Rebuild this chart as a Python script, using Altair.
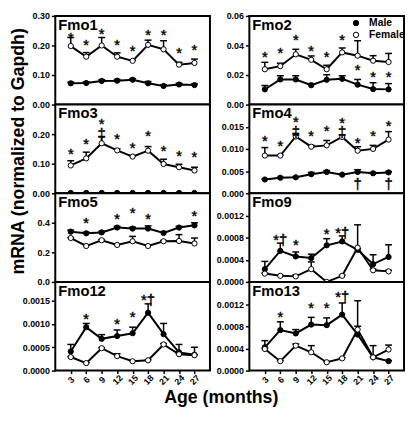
import altair as alt
import pandas as pd

AGES = [3, 6, 9, 12, 15, 18, 21, 24, 27]
SEXES = ["Male", "Female"]

# ---- Fmo1 ----
FMO1_MALE = [0.072, 0.073, 0.080, 0.081, 0.084, 0.072, 0.063, 0.068, 0.066]
FMO1_MALE_UP = [0.076, 0.077, 0.084, 0.085, 0.088, 0.078, 0.067, 0.072, 0.070]
FMO1_FEMALE = [0.198, 0.162, 0.200, 0.162, 0.148, 0.202, 0.187, 0.135, 0.141]
FMO1_FEMALE_UP = [0.227, 0.176, 0.227, 0.175, 0.150, 0.218, 0.216, 0.143, 0.154]
FMO1_ANN_AGES = [3, 6, 9, 12, 15, 18, 21, 24, 27]
FMO1_ANN_VALUES = [0.240, 0.213, 0.252, 0.213, 0.195, 0.248, 0.250, 0.187, 0.199]
FMO1_ANN_TEXTS = ["*", "*", "*", "*", "*", "*", "*", "*", "*"]

# ---- Fmo2 ----
FMO2_MALE = [0.0103, 0.0170, 0.0170, 0.0131, 0.0168, 0.0174, 0.0135, 0.0105, 0.0103]
FMO2_MALE_UP = [0.0129, 0.0195, 0.0195, 0.0142, 0.0202, 0.0195, 0.0170, 0.0148, 0.0142]
FMO2_FEMALE = [0.0239, 0.0260, 0.0340, 0.0303, 0.0239, 0.0353, 0.0331, 0.0297, 0.0288]
FMO2_FEMALE_UP = [0.0286, 0.0280, 0.0374, 0.0329, 0.0266, 0.0383, 0.0432, 0.0331, 0.0346]
FMO2_ANN_AGES = [3, 6, 9, 12, 15, 18, 21, 24, 27]
FMO2_ANN_VALUES = [0.0350, 0.0372, 0.0465, 0.0389, 0.0350, 0.0465, 0.0260, 0.0211, 0.0213]
FMO2_ANN_TEXTS = ["*", "*", "*", "*", "*", "*", "*", "*", "*"]

# ---- Fmo3 ----
FMO3_MALE = [0.001, 0.001, 0.001, 0.001, 0.001, 0.001, 0.001, 0.001, 0.001]
FMO3_MALE_UP = [0.001, 0.001, 0.001, 0.001, 0.001, 0.001, 0.001, 0.001, 0.001]
FMO3_FEMALE = [0.094, 0.118, 0.169, 0.145, 0.124, 0.144, 0.099, 0.088, 0.077]
FMO3_FEMALE_UP = [0.110, 0.139, 0.192, 0.150, 0.126, 0.158, 0.115, 0.098, 0.088]
FMO3_ANN_AGES = [3, 6, 9, 9, 12, 15, 18, 21, 24, 27]
FMO3_ANN_VALUES = [0.147, 0.180, 0.246, 0.212, 0.198, 0.166, 0.206, 0.156, 0.140, 0.137]
FMO3_ANN_TEXTS = ["*", "*", "*", "‡", "*", "*", "*", "*", "*", "*"]

# ---- Fmo4 ----
FMO4_MALE = [0.0031, 0.0035, 0.0036, 0.0043, 0.0048, 0.0042, 0.0048, 0.0045, 0.0047]
FMO4_MALE_UP = [0.0032, 0.0036, 0.0037, 0.0047, 0.0051, 0.0044, 0.0053, 0.0047, 0.0049]
FMO4_FEMALE = [0.0085, 0.0085, 0.0128, 0.0105, 0.0108, 0.0127, 0.0096, 0.0100, 0.0121]
FMO4_FEMALE_UP = [0.0103, 0.0086, 0.0135, 0.0108, 0.0119, 0.0132, 0.0105, 0.0108, 0.0139]
FMO4_ANN_AGES = [3, 6, 9, 9, 12, 15, 18, 18, 21, 24, 27, 21, 27]
FMO4_ANN_VALUES = [0.0126, 0.0115, 0.0169, 0.0148, 0.0137, 0.0150, 0.0168, 0.0146,
                   0.0123, 0.0137, 0.0161, 0.0029, 0.0029]
FMO4_ANN_TEXTS = ["*", "*", "*", "‡", "*", "*", "*", "‡", "*", "*", "*", "†", "†"]

# ---- Fmo5 ----
FMO5_MALE = [0.340, 0.329, 0.335, 0.368, 0.361, 0.361, 0.331, 0.368, 0.383]
FMO5_MALE_UP = [0.350, 0.336, 0.342, 0.376, 0.370, 0.379, 0.340, 0.376, 0.400]
FMO5_FEMALE = [0.297, 0.243, 0.282, 0.250, 0.275, 0.243, 0.275, 0.277, 0.260]
FMO5_FEMALE_UP = [0.300, 0.250, 0.286, 0.255, 0.308, 0.248, 0.280, 0.320, 0.297]
FMO5_ANN_AGES = [6, 12, 15, 18, 27]
FMO5_ANN_VALUES = [0.426, 0.454, 0.490, 0.454, 0.475]
FMO5_ANN_TEXTS = ["*", "*", "*", "*", "*"]

# ---- Fmo9 ----
FMO9_MALE = [0.00023, 0.00056, 0.00046, 0.00043, 0.00066, 0.00073, 0.00058, 0.00032, 0.00045]
FMO9_MALE_UP = [0.00037, 0.00070, 0.00054, 0.00050, 0.00078, 0.00083, 0.00060, 0.00049, 0.00067]
FMO9_FEMALE = [0.00015, 0.00011, 0.00010, 0.00023, 0.00000, 0.00011, 0.00062, 0.00021, 0.00019]
FMO9_FEMALE_UP = [0.00016, 0.00012, 0.00013, 0.00036, 0.00000, 0.00012, 0.00103, 0.00023, 0.00021]
FMO9_ANN_AGES = [6, 9, 15, 18]
FMO9_ANN_VALUES = [0.00083, 0.00073, 0.00094, 0.00096]
FMO9_ANN_TEXTS = ["*†", "*", "*", "*†"]

# ---- Fmo12 ----
FMO12_MALE = [0.00041, 0.00093, 0.00068, 0.00074, 0.00080, 0.00124, 0.00078, 0.00039, 0.00034]
FMO12_MALE_UP = [0.00056, 0.00101, 0.00077, 0.00087, 0.00093, 0.00143, 0.00101, 0.00056, 0.00050]
FMO12_FEMALE = [0.00029, 0.00016, 0.00048, 0.00031, 0.00020, 0.00022, 0.00056, 0.00035, 0.00033]
FMO12_FEMALE_UP = [0.00030, 0.00017, 0.00049, 0.00036, 0.00021, 0.00023, 0.00058, 0.00036, 0.00034]
FMO12_ANN_AGES = [6, 12, 15, 18]
FMO12_ANN_VALUES = [0.00119, 0.00109, 0.00123, 0.00160]
FMO12_ANN_TEXTS = ["*", "*", "*", "*†"]

# ---- Fmo13 ----
FMO13_MALE = [0.00042, 0.00073, 0.00067, 0.00083, 0.00082, 0.00101, 0.00065, 0.00024, 0.00017]
FMO13_MALE_UP = [0.00054, 0.00088, 0.00074, 0.00096, 0.00095, 0.00122, 0.00080, 0.00045, 0.00018]
FMO13_FEMALE = [0.00039, 0.00017, 0.00045, 0.00033, 0.00015, 0.00022, 0.00074, 0.00024, 0.00038]
FMO13_FEMALE_UP = [0.00040, 0.00018, 0.00048, 0.00045, 0.00016, 0.00023, 0.00126, 0.00025, 0.00046]
FMO13_ANN_AGES = [6, 12, 15, 18]
FMO13_ANN_VALUES = [0.00104, 0.00119, 0.00119, 0.00140]
FMO13_ANN_TEXTS = ["*", "*", "*", "*†"]

FONT = "Liberation Sans"
H = 90
W = 157


def panel(name, male, male_up, female, female_up, ann_ages, ann_vals, ann_texts,
          ymax, yvals, yfmt, bottom=False, legend=False, ytitle=False):
    df = pd.DataFrame({
        "age": AGES + AGES,
        "sex": ["Male"] * len(AGES) + ["Female"] * len(AGES),
        "value": male + female,
        "upper": male_up + female_up,
    })
    ann = pd.DataFrame({"age": ann_ages, "value": ann_vals, "text": ann_texts})
    lab = pd.DataFrame({"name": [name]})

    yscale = alt.Scale(domain=[0, ymax], nice=False, zero=True)
    xscale = alt.Scale(type="point", padding=1.0)

    if bottom:
        xaxis = alt.Axis(title=None, labelAngle=315, labelAlign="center",
                         labelBaseline="middle", labelPadding=6, tickSize=3,
                         labelFontSize=9, labelFontWeight="bold")
    else:
        xaxis = None

    yaxis_kw = dict(values=yvals, format=yfmt, grid=False)
    if ytitle:
        yaxis_kw.update(title="mRNA (normalized to Gapdh)", titleFontSize=18,
                        titleFontWeight="bold", titleFont=FONT, titleX=-28,
                        titleY=47, titleAngle=270, titleAlign="center",
                        titleBaseline="bottom", titleColor="black")
    else:
        yaxis_kw.update(title="")
    yaxis = alt.Axis(**yaxis_kw)

    X = alt.X("age:O", scale=xscale, axis=xaxis, sort=AGES)

    def Y(field):
        return alt.Y(field, scale=yscale, axis=yaxis)

    lines = alt.Chart(df).mark_line(color="black", strokeWidth=2).encode(
        x=X, y=Y("value:Q"), detail="sex:N",
    )
    rules = alt.Chart(df).mark_rule(color="black", strokeWidth=1.5).encode(
        x=X, y=Y("value:Q"), y2="upper:Q",
    )
    caps = alt.Chart(df).mark_tick(orient="horizontal", size=7, thickness=1.5,
                                   color="black", opacity=1).encode(
        x=X, y=Y("upper:Q"),
    )
    if legend:
        leg = alt.Legend(orient="none", legendX=103, legendY=2, title=None,
                         labelFontSize=10.5, labelFontWeight="bold", labelFont=FONT,
                         labelColor="black", symbolType="circle", symbolSize=30,
                         symbolStrokeColor="black", symbolStrokeWidth=1,
                         symbolOpacity=1, rowPadding=1, labelOffset=8, padding=0)
    else:
        leg = None
    points = alt.Chart(df).mark_circle(size=28, stroke="black", strokeWidth=1,
                                       opacity=1).encode(
        x=X, y=Y("value:Q"),
        fill=alt.Fill("sex:N", scale=alt.Scale(domain=SEXES, range=["black", "white"]),
                      legend=leg, sort=SEXES),
    )
    texts = alt.Chart(ann).mark_text(fontSize=15, font=FONT, color="black",
                                     fill="black", stroke="black", strokeWidth=0.4,
                                     dy=4).encode(
        x=X, y=Y("value:Q"), text="text:N",
    )
    title = alt.Chart(lab).mark_text(align="left", baseline="top", fontSize=15,
                                     fontWeight="bold", font=FONT, color="black").encode(
        x=alt.value(3), y=alt.value(2), text="name:N",
    )
    return alt.layer(lines, rules, caps, points, texts, title).properties(
        width=W, height=H)


panels = [
    panel("Fmo1", FMO1_MALE, FMO1_MALE_UP, FMO1_FEMALE, FMO1_FEMALE_UP,
          FMO1_ANN_AGES, FMO1_ANN_VALUES, FMO1_ANN_TEXTS,
          0.30, [0, 0.1, 0.2, 0.3], ".2f"),
    panel("Fmo2", FMO2_MALE, FMO2_MALE_UP, FMO2_FEMALE, FMO2_FEMALE_UP,
          FMO2_ANN_AGES, FMO2_ANN_VALUES, FMO2_ANN_TEXTS,
          0.06, [0, 0.02, 0.04, 0.06], ".2f", legend=True),
    panel("Fmo3", FMO3_MALE, FMO3_MALE_UP, FMO3_FEMALE, FMO3_FEMALE_UP,
          FMO3_ANN_AGES, FMO3_ANN_VALUES, FMO3_ANN_TEXTS,
          0.30, [0, 0.1, 0.2], ".2f", ytitle=True),
    panel("Fmo4", FMO4_MALE, FMO4_MALE_UP, FMO4_FEMALE, FMO4_FEMALE_UP,
          FMO4_ANN_AGES, FMO4_ANN_VALUES, FMO4_ANN_TEXTS,
          0.020, [0, 0.005, 0.01, 0.015], ".3f"),
    panel("Fmo5", FMO5_MALE, FMO5_MALE_UP, FMO5_FEMALE, FMO5_FEMALE_UP,
          FMO5_ANN_AGES, FMO5_ANN_VALUES, FMO5_ANN_TEXTS,
          0.6, [0, 0.2, 0.4], ".1f"),
    panel("Fmo9", FMO9_MALE, FMO9_MALE_UP, FMO9_FEMALE, FMO9_FEMALE_UP,
          FMO9_ANN_AGES, FMO9_ANN_VALUES, FMO9_ANN_TEXTS,
          0.0016, [0, 0.0004, 0.0008, 0.0012], ".4f"),
    panel("Fmo12", FMO12_MALE, FMO12_MALE_UP, FMO12_FEMALE, FMO12_FEMALE_UP,
          FMO12_ANN_AGES, FMO12_ANN_VALUES, FMO12_ANN_TEXTS,
          0.0019, [0, 0.0005, 0.001, 0.0015], ".4f", bottom=True),
    panel("Fmo13", FMO13_MALE, FMO13_MALE_UP, FMO13_FEMALE, FMO13_FEMALE_UP,
          FMO13_ANN_AGES, FMO13_ANN_VALUES, FMO13_ANN_TEXTS,
          0.0016, [0, 0.0004, 0.0008, 0.0012], ".4f", bottom=True),
]

chart = alt.concat(
    *panels, columns=2, spacing={"row": 0, "column": 40}, bounds="flush",
    title=alt.TitleParams("Age (months)", orient="bottom", anchor="middle",
                          fontSize=18, fontWeight="bold", font=FONT,
                          color="black", offset=2, dx=14),
).resolve_scale(fill="independent").resolve_legend(fill="independent").properties(
    padding={"left": 0, "top": 0, "right": 0, "bottom": 0}
).configure(font=FONT, background="white").configure_view(
    stroke="black", strokeWidth=2, fill="white"
).configure_axis(
    labelFont=FONT, labelFontWeight="bold", labelFontSize=9, labelColor="black",
    tickColor="black", tickWidth=1.5, tickSize=4, domain=False, grid=False,
    labelPadding=2,
)

chart.save("out.html", embed_options={"renderer": "svg", "actions": False})
